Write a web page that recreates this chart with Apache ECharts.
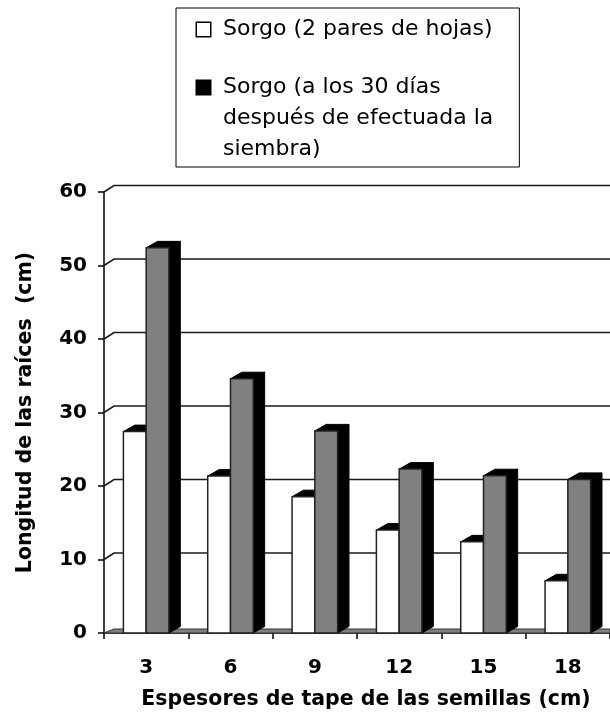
<!DOCTYPE html>
<html>
<head>
<meta charset="utf-8">
<script src="https://cdn.jsdelivr.net/npm/echarts@6/dist/echarts.min.js"></script>
<style>
html,body{margin:0;padding:0;background:#fff;}
#chart{width:610px;height:715px;}
</style>
</head>
<body>
<div id="chart"></div>
<script>
const categories = ['3', '6', '9', '12', '15', '18'];
const seriesNames = ['Sorgo (2 pares de hojas)', 'Sorgo (a los 30 días después de efectuada la siembra)'];
const paresHojas = [27.4, 21.35, 18.55, 14.0, 12.4, 7.1];
const dias30 = [52.4, 34.6, 27.5, 22.3, 21.4, 20.9];
const yTicks = [0, 10, 20, 30, 40, 50, 60];
const xAxisName = 'Espesores de tape de las semillas (cm)';
const yAxisName = 'Longitud de las raíces  (cm)';

const chart = echarts.init(document.getElementById('chart'), null, {renderer: 'canvas'});
const FONT = 'DejaVu Sans';

function barRenderer(which, fill) {
  return function (params, api) {
    const idx = api.value(0);
    const v = api.value(1);
    const top = api.coord([idx, v]);
    const base = api.coord([idx, 0]);
    const bw = api.size([1, 0])[0];
    const w = bw * 0.27;
    const dx = bw * 0.135;
    const dy = 6.5;
    const x0 = which === 0 ? top[0] - w : top[0];
    const ty = top[1], by = base[1];
    return {
      type: 'group',
      children: [
        {type: 'polygon', shape: {points: [[x0 + w, ty], [x0 + w + dx, ty - dy], [x0 + w + dx, by - dy], [x0 + w, by]]},
          style: {fill: '#000', stroke: '#000', lineWidth: 1}},
        {type: 'polygon', shape: {points: [[x0, ty], [x0 + dx, ty - dy], [x0 + w + dx, ty - dy], [x0 + w, ty]]},
          style: {fill: '#000', stroke: '#000', lineWidth: 1}},
        {type: 'rect', shape: {x: x0, y: ty, width: w, height: by - ty},
          style: {fill: fill, stroke: '#222', lineWidth: 1.5}}
      ]
    };
  };
}

function gridRenderer(params, api) {
  const v = api.value(1);
  const p = api.coord([0, v]);
  const cs = params.coordSys;
  const x0 = cs.x, x1 = cs.x + cs.width;
  const dx = 10, dy = 6.5;
  const children = [];
  if (v === 0) {
    children.push({type: 'polygon', shape: {points: [[x0, p[1]], [x0 + dx, p[1] - 4], [x1, p[1] - 4], [x1, p[1]]]},
      style: {fill: '#808080', stroke: '#333', lineWidth: 1}});
  } else {
    children.push({type: 'polyline', shape: {points: [[x0, p[1]], [x0 + dx, p[1] - dy], [x1, p[1] - dy]]},
      style: {stroke: '#1a1a1a', lineWidth: 1.6, fill: null}});
  }
  return {type: 'group', children: children};
}

const option = {
  animation: false,
  backgroundColor: '#fff',
  grid: {left: 104, right: 0, top: 192, bottom: 81, containLabel: false},
  legend: {
    data: seriesNames,
    left: 176, top: 8,
    orient: 'vertical',
    itemWidth: 0, itemHeight: 14,
    itemGap: 27,
    borderColor: '#000', borderWidth: 1,
    padding: [6, 26, 2, 16],
    selectedMode: false,
    itemStyle: {color: 'transparent', borderWidth: 0, opacity: 0},
    formatter: function (name) {
      if (name === seriesNames[0]) return '{sq1|}{g|}Sorgo (2 pares de hojas)';
      return '{sq2|}{g|}Sorgo (a los 30 días\n{ind|}después de efectuada la\n{ind|}siembra)';
    },
    textStyle: {
      fontFamily: FONT, fontSize: 22, color: '#000', lineHeight: 31,
      rich: {
        sq1: {width: 13, height: 13, backgroundColor: '#fff', borderColor: '#000', borderWidth: 1.5},
        sq2: {width: 13, height: 13, backgroundColor: '#000', borderColor: '#000', borderWidth: 1.5},
        g: {width: 13},
        ind: {width: 26}
      }
    }
  },
  xAxis: {
    type: 'category',
    data: categories,
    boundaryGap: true,
    name: xAxisName,
    nameLocation: 'middle',
    nameGap: 56,
    nameTextStyle: {fontFamily: FONT, fontWeight: 'bold', fontSize: 20.5, color: '#000', padding: [0, 0, 0, 18]},
    axisLine: {show: true, lineStyle: {color: '#000', width: 1.5}},
    axisTick: {show: true, length: 6, inside: false, alignWithLabel: false, lineStyle: {color: '#000', width: 1.5}},
    axisLabel: {fontFamily: FONT, fontWeight: 'bold', fontSize: 20, color: '#000', margin: 25},
    splitLine: {show: false}
  },
  yAxis: {
    type: 'value',
    min: 0, max: 60, interval: 10,
    name: yAxisName,
    nameLocation: 'middle',
    nameGap: 68,
    nameRotate: 90,
    nameTextStyle: {fontFamily: FONT, fontWeight: 'bold', fontSize: 20.5, color: '#000'},
    axisLine: {show: true, lineStyle: {color: '#000', width: 1.5}},
    axisTick: {show: true, length: 6, inside: false, lineStyle: {color: '#000', width: 1.5}},
    axisLabel: {fontFamily: FONT, fontWeight: 'bold', fontSize: 20, color: '#000', margin: 17},
    splitLine: {show: false}
  },
  series: [
    {
      type: 'custom', name: 'grid', silent: true,
      renderItem: gridRenderer,
      encode: {x: 0, y: 1},
      data: yTicks.map(t => [0, t]),
      z: 1
    },
    {
      type: 'custom', name: seriesNames[0],
      renderItem: barRenderer(0, '#ffffff'),
      encode: {x: 0, y: 1},
      data: paresHojas.map((v, i) => [i, v]),
      itemStyle: {color: '#ffffff'},
      z: 2
    },
    {
      type: 'custom', name: seriesNames[1],
      renderItem: barRenderer(1, '#808080'),
      encode: {x: 0, y: 1},
      data: dias30.map((v, i) => [i, v]),
      itemStyle: {color: '#000000'},
      z: 3
    }
  ]
};
chart.setOption(option);
</script>
</body>
</html>
